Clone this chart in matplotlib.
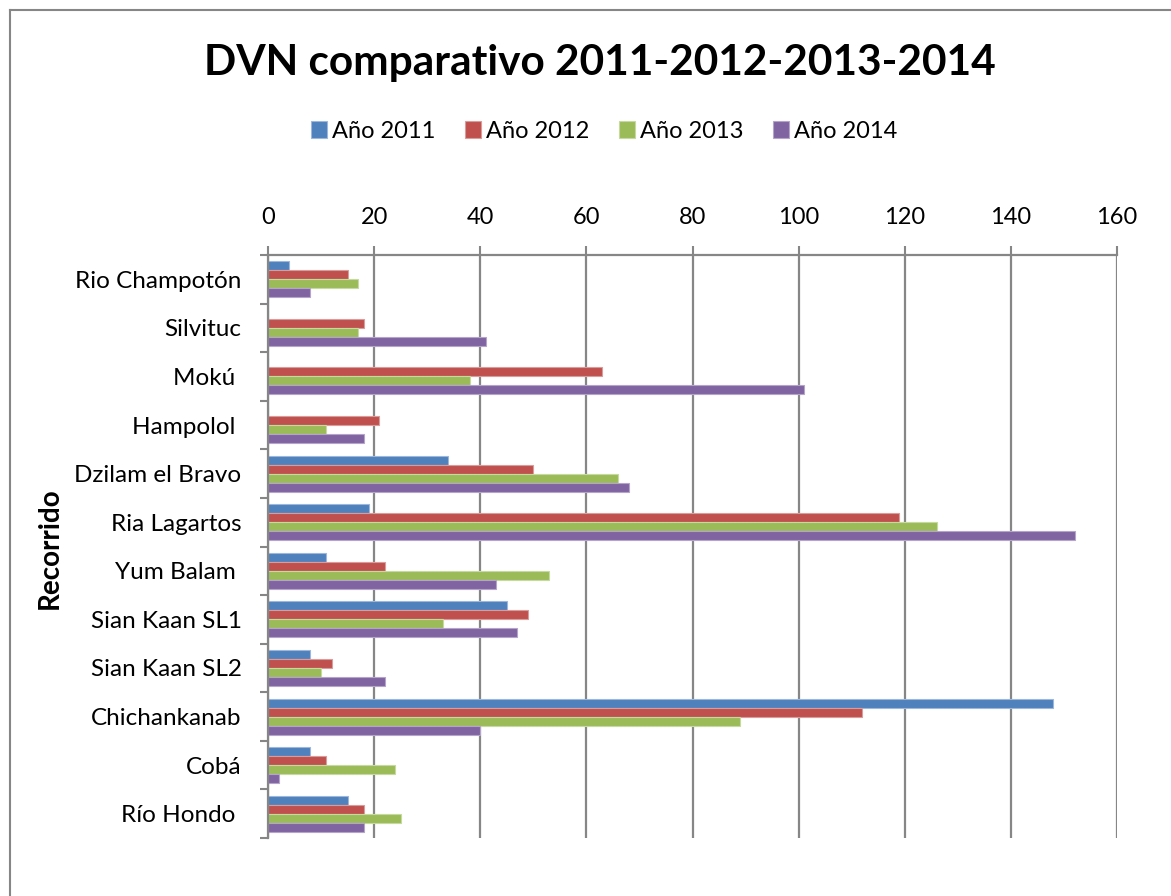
import numpy as np
import matplotlib
matplotlib.use('Agg')
import matplotlib.pyplot as plt
from matplotlib.lines import Line2D
from matplotlib.ticker import FixedLocator

plt.rcParams['font.family'] = ['Lato', 'DejaVu Sans']

# Data
recorridos = ['Rio Champotón', 'Silvituc', 'Mokú ', 'Hampolol ', 'Dzilam el Bravo',
              'Ria Lagartos', 'Yum Balam ', 'Sian Kaan SL1', 'Sian Kaan SL2',
              'Chichankanab', 'Cobá', 'Río Hondo ']
anio_2011 = [4, 0, 0, 0, 34, 19, 11, 45, 8, 148, 8, 15]
anio_2012 = [15, 18, 63, 21, 50, 119, 22, 49, 12, 112, 11, 18]
anio_2013 = [17, 17, 38, 11, 66, 126, 53, 33, 10, 89, 24, 25]
anio_2014 = [8, 41, 101, 18, 68, 152, 43, 47, 22, 40, 2, 18]
series_names = ['Año 2011', 'Año 2012', 'Año 2013', 'Año 2014']
colors = ['#4F81BD', '#C0504D', '#9BBB59', '#8064A2']
edges = ['#9DB7DA', '#DA9C9A', '#C6DAA0', '#B5A4CA']
x_ticks = [0, 20, 40, 60, 80, 100, 120, 140, 160]

fig = plt.figure(figsize=(11.71, 8.96), dpi=100)
ax = fig.add_axes([268/1171, 1 - 838/896, (1117-268)/1171, (838-255)/896])

pos = np.arange(len(recorridos))
h = 0.185
all_series = [anio_2011, anio_2012, anio_2013, anio_2014]
for k, (vals, name) in enumerate(zip(all_series, series_names)):
    ax.barh(pos + (k - 1.5) * h, vals, height=h, color=colors[k],
            edgecolor=edges[k], linewidth=0.8, label=name)

ax.set_ylim(len(recorridos) - 0.5, -0.5)
ax.set_xlim(0, 160)
ax.set_xticks(x_ticks)

# top axis
ax.xaxis.tick_top()
ax.tick_params(axis='x', direction='out', length=6.5, width=1.5, colors='#868686',
               labelcolor='black', labelsize=17, pad=13)
ax.set_yticks(pos)
ax.set_yticklabels(recorridos)
ax.yaxis.set_minor_locator(FixedLocator(np.arange(-0.5, len(recorridos), 1)))
ax.tick_params(axis='y', which='major', length=0, labelsize=17.5, pad=19)
ax.tick_params(axis='y', which='minor', length=6, width=1.5, color='#868686')

ax.grid(axis='x', color='#868686', linewidth=1.6)
ax.set_axisbelow(True)
for s in ['right', 'bottom']:
    ax.spines[s].set_visible(False)
for s in ['left', 'top']:
    ax.spines[s].set_color('#868686')
    ax.spines[s].set_linewidth(1.6)

fig.text(600/1171, 1 - 63/896, 'DVN comparativo 2011-2012-2013-2014',
         ha='center', va='center', fontsize=30.5, fontweight='bold')
fig.text(50/1171, 1 - 548/896, 'Recorrido', rotation=90, ha='center', va='center',
         fontsize=20, fontweight='bold')

fig.legend(loc='center', bbox_to_anchor=(604/1171, 1 - 131/896), ncol=4, frameon=False,
           fontsize=17, handlelength=0.7, handleheight=0.7, handletextpad=0.2,
           columnspacing=1.25)

# chart area border
fig.add_artist(Line2D([10/1171, 10/1171], [0, 1 - 10/896], color='#868686', lw=1.5))
fig.add_artist(Line2D([10/1171, 1], [1 - 10/896, 1 - 10/896], color='#868686', lw=1.5))

fig.savefig('out.png', dpi=100)
